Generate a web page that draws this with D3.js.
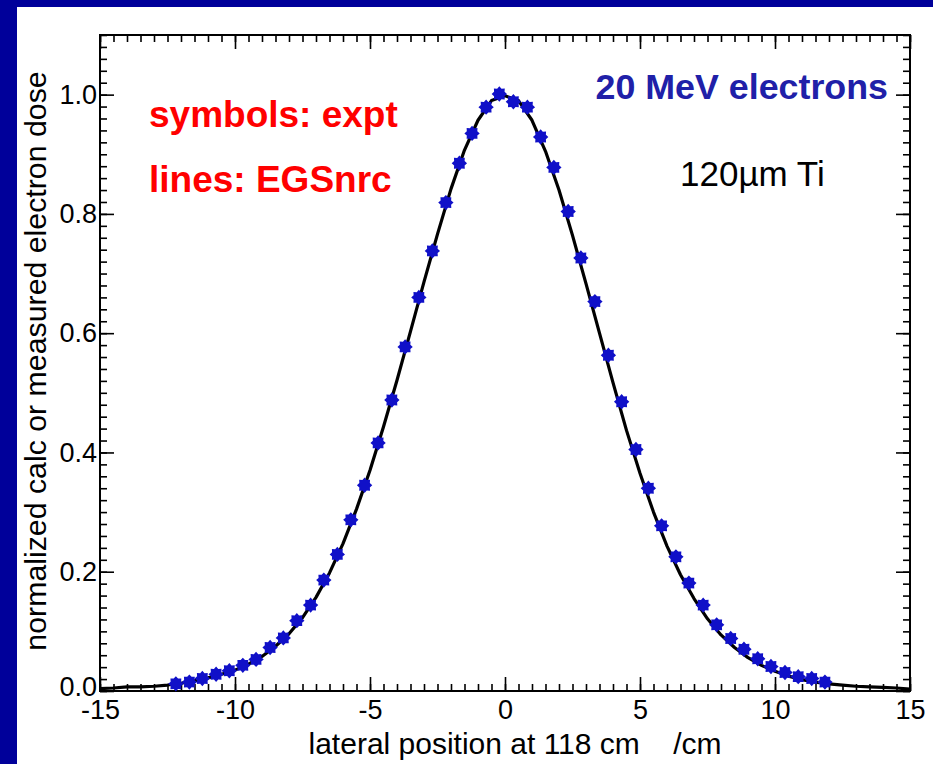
<!DOCTYPE html>
<html>
<head>
<meta charset="utf-8">
<script src="https://cdn.jsdelivr.net/npm/d3@7"></script>
<style>
  html, body { margin: 0; padding: 0; background: #00009a; }
  svg { display: block; }
</style>
</head>
<body>
<div class="graph-container"></div>
<script>
// measured points (symbols: expt)
const exptX = [-12.19, -11.69, -11.21, -10.70, -10.21, -9.71, -9.22, -8.70, -8.21, -7.71,
  -7.20, -6.71, -6.21, -5.71, -5.20, -4.70, -4.19, -3.70, -3.19, -2.69,
  -2.19, -1.69, -1.22, -0.70, -0.21, 0.31, 0.83, 1.32, 1.81, 2.34,
  2.81, 3.33, 3.83, 4.32, 4.85, 5.31, 5.80, 6.33, 6.81, 7.34,
  7.84, 8.36, 8.85, 9.36, 9.85, 10.37, 10.86, 11.36, 11.85];
const exptY = [0.012, 0.015, 0.021, 0.028, 0.034, 0.043, 0.053, 0.073, 0.089, 0.118,
  0.144, 0.186, 0.229, 0.287, 0.345, 0.416, 0.488, 0.577, 0.660, 0.738,
  0.819, 0.885, 0.935, 0.979, 1.001, 0.988, 0.979, 0.929, 0.878, 0.804,
  0.726, 0.653, 0.563, 0.485, 0.405, 0.340, 0.277, 0.225, 0.181, 0.144,
  0.111, 0.088, 0.070, 0.054, 0.041, 0.031, 0.024, 0.021, 0.015];

// calculated curve (lines: EGSnrc)
const calcX = [-15, -14.5, -14, -13.5, -13, -12.5, -12, -11.5, -11, -10.5,
  -10, -9.5, -9, -8.5, -8, -7.5, -7, -6.5, -6, -5.5,
  -5, -4.5, -4, -3.5, -3, -2.5, -2, -1.5, -1, -0.5,
  0, 0.5, 1, 1.5, 2, 2.5, 3, 3.5, 4, 4.5,
  5, 5.5, 6, 6.5, 7, 7.5, 8, 8.5, 9, 9.5,
  10, 10.5, 11, 11.5, 12, 12.5, 13, 13.5, 14, 14.5, 15];
const calcY = [0.004, 0.005, 0.007, 0.007, 0.008, 0.010, 0.013, 0.017, 0.022, 0.028,
  0.035, 0.045, 0.058, 0.075, 0.096, 0.123, 0.157, 0.198, 0.247, 0.305,
  0.370, 0.443, 0.521, 0.603, 0.686, 0.766, 0.842, 0.907, 0.957, 0.990,
  0.998, 0.990, 0.957, 0.905, 0.840, 0.764, 0.683, 0.600, 0.517, 0.437,
  0.365, 0.300, 0.243, 0.195, 0.155, 0.121, 0.094, 0.073, 0.056, 0.043,
  0.033, 0.025, 0.019, 0.015, 0.012, 0.010, 0.008, 0.007, 0.006, 0.005, 0.003];

const xTicks = [-15, -10, -5, 0, 5, 10, 15];
const yTicks = [0, 0.2, 0.4, 0.6, 0.8, 1.0];

// svg parameters
const w = 933;
const h = 764;
const plotLeft = 100;
const plotRight = 910;
const plotTop = 35;
const plotBottom = 691;

const svg = d3.select('.graph-container')
  .append('svg')
  .attr('width', w)
  .attr('height', h);

// slide background: navy band top and left, white panel
svg.append('rect').attr('width', w).attr('height', h).attr('fill', '#00009a');
svg.append('rect').attr('x', 17).attr('y', 7).attr('width', w - 17).attr('height', h - 7)
  .attr('fill', '#ffffff');

const xScale = d3.scaleLinear([-15, 15], [plotLeft, plotRight]);
const yScale = d3.scaleLinear([0, 1.1], [plotBottom, plotTop]);

const font = 'Liberation Sans, Arial, Helvetica, sans-serif';
const major = 14;
const minor = 7;

// ticks on all four sides, pointing inward
function ticks(axis, transform, values, size, labels) {
  const g = svg.append('g')
    .attr('transform', transform)
    .call(axis.tickValues(values).tickSize(size)
      .tickFormat(labels || (() => '')));
  g.select('.domain').remove();
  g.selectAll('line').attr('stroke', '#000').attr('stroke-width', 1.6);
  return g;
}

const xMinor = d3.range(-15, 15.01, 0.5);
const yMinor = d3.range(0, 1.101, 0.02);

const xb = ticks(d3.axisBottom(xScale), `translate(0,${plotBottom})`, xTicks, -major, d3.format('d'));
xb.selectAll('.tick text').attr('y', 9);
ticks(d3.axisBottom(xScale), `translate(0,${plotBottom})`, xMinor, -minor);
ticks(d3.axisTop(xScale), `translate(0,${plotTop})`, xTicks, -major);
ticks(d3.axisTop(xScale), `translate(0,${plotTop})`, xMinor, -minor);

const yl = ticks(d3.axisLeft(yScale), `translate(${plotLeft},0)`, yTicks, -major, d3.format('.1f'));
yl.selectAll('.tick text').attr('x', -3);
yl.selectAll('.tick text').filter((d) => d === 0).attr('dy', '0.15em');
ticks(d3.axisLeft(yScale), `translate(${plotLeft},0)`, yMinor, -minor);
ticks(d3.axisRight(yScale), `translate(${plotRight},0)`, yTicks, -major);
ticks(d3.axisRight(yScale), `translate(${plotRight},0)`, yMinor, -minor);

svg.selectAll('.tick text')
  .attr('font-family', font)
  .attr('font-size', 27)
  .attr('fill', '#000')
  .text(function () { return d3.select(this).text().replace('\u2212', '-'); });

// frame
svg.append('rect')
  .attr('x', plotLeft).attr('y', plotTop)
  .attr('width', plotRight - plotLeft).attr('height', plotBottom - plotTop)
  .attr('fill', 'none').attr('stroke', '#000').attr('stroke-width', 2);

// EGSnrc line
const line = d3.line()
  .x((d, i) => xScale(calcX[i]))
  .y((d) => yScale(d));

svg.append('path')
  .datum(calcY)
  .attr('d', line)
  .attr('fill', 'none')
  .attr('stroke', '#000')
  .attr('stroke-width', 3.2)
  .attr('stroke-linejoin', 'round');

// 8-point star symbol for the measurements
const star8 = {
  draw(context, size) {
    const r = Math.sqrt(size / Math.PI) * 1.15;
    for (let i = 0; i < 16; i += 1) {
      const a = (i * Math.PI) / 8;
      const rr = i % 2 ? r * 0.74 : r;
      if (i === 0) context.moveTo(rr * Math.cos(a), rr * Math.sin(a));
      else context.lineTo(rr * Math.cos(a), rr * Math.sin(a));
    }
    context.closePath();
  },
};

svg.append('g').selectAll('path')
  .data(exptY)
  .enter()
  .append('path')
  .attr('d', d3.symbol().type(star8).size(140))
  .attr('transform', (d, i) => `translate(${xScale(exptX[i])},${yScale(d)})`)
  .attr('fill', '#1010c8');

// axis titles
svg.append('text')
  .text('lateral position at 118 cm    /cm')
  .attr('x', 515).attr('y', 754)
  .attr('text-anchor', 'middle')
  .style('white-space', 'pre')
  .attr('font-family', font)
  .attr('font-size', 30)
  .attr('fill', '#000');

svg.append('text')
  .text('normalized calc or measured electron dose')
  .attr('transform', 'translate(46,361) rotate(-90)')
  .attr('text-anchor', 'middle')
  .attr('font-family', font)
  .attr('font-size', 30.3)
  .attr('fill', '#000');

// annotations
svg.append('text')
  .text('symbols: expt')
  .attr('x', 149).attr('y', 127)
  .attr('font-family', font).attr('font-weight', 'bold')
  .attr('font-size', 37).attr('fill', '#ff0000');

svg.append('text')
  .text('lines: EGSnrc')
  .attr('x', 149).attr('y', 192)
  .attr('font-family', font).attr('font-weight', 'bold')
  .attr('font-size', 37).attr('fill', '#ff0000');

svg.append('text')
  .text('20 MeV electrons')
  .attr('x', 888).attr('y', 99)
  .attr('text-anchor', 'end')
  .attr('font-family', font).attr('font-weight', 'bold')
  .attr('font-size', 35.8).attr('fill', '#2020a8');

svg.append('text')
  .text('120\u00b5m Ti')
  .attr('x', 680).attr('y', 186)
  .attr('font-family', font)
  .attr('font-size', 35).attr('fill', '#000');
</script>
</body>
</html>
